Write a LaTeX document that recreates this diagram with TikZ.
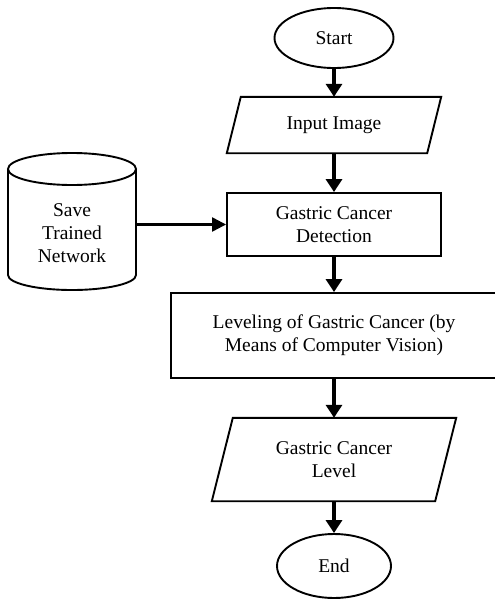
\documentclass[tikz,border=0pt]{standalone}
\usepackage{fontspec}
\setmainfont{Liberation Serif}
\usetikzlibrary{arrows.meta,shapes.geometric,calc}
\begin{document}
\begin{tikzpicture}[x=1pt,y=-1pt,
  every node/.style={font=\fontsize{19.5}{23}\selectfont, align=center, inner sep=0pt},
  shapeline/.style={line width=1.9pt},
  term/.style={ellipse, draw, shapeline},
  box/.style={rectangle, draw, shapeline},
  flow/.style={line width=4pt, -{Triangle[length=13pt,width=16pt]}},
  feed/.style={line width=2.3pt, -{Triangle[length=14pt,width=14pt]}}]
\useasboundingbox (0,0) rectangle (495,600);
% start
\node[term, minimum width=119pt, minimum height=60pt] (start) at (334,38) {Start};
% input image (parallelogram)
\node[minimum width=200pt, minimum height=56pt] (inp) at (334,125) {Input Image};
\draw[shapeline] ($(inp.north west)+(7,0)$) -- ($(inp.north east)+(7,0)$) -- ($(inp.south east)+(-7,0)$) -- ($(inp.south west)+(-7,0)$) -- cycle;
% detection
\node[box, minimum width=214pt, minimum height=63pt] (gcd) at (334,224.5) {Gastric Cancer\\Detection};
% leveling
\node[box, minimum width=326pt, minimum height=85pt] (lev) at (334,335.5) {Leveling of Gastric Cancer (by\\Means of Computer Vision)};
% level (parallelogram)
\node[minimum width=223pt, minimum height=83pt] (gcl) at (334,459.5) {Gastric Cancer\\Level};
\draw[shapeline] ($(gcl.north west)+(10.5,0)$) -- ($(gcl.north east)+(10.5,0)$) -- ($(gcl.south east)+(-10.5,0)$) -- ($(gcl.south west)+(-10.5,0)$) -- cycle;
% end
\node[term, minimum width=114pt, minimum height=64pt] (end) at (334,566) {End};
% database cylinder
\node[minimum width=128pt, minimum height=106pt] (save) at (72,233) {Save\\Trained\\Network};
\draw[shapeline] (72,169) ellipse [x radius=64, y radius=16];
\draw[shapeline] (8,169) -- (8,275) arc[start angle=180, end angle=0, x radius=64, y radius=15] -- (136,169);
% connectors
\draw[flow] (start.south) -- (inp.north);
\draw[flow] (inp.south) -- (gcd.north);
\draw[flow] (gcd.south) -- (lev.north);
\draw[flow] (lev.south) -- (gcl.north);
\draw[flow] (gcl.south) -- (end.north);
\draw[feed] (save.east |- gcd.west) -- (gcd.west);
\end{tikzpicture}
\end{document}
